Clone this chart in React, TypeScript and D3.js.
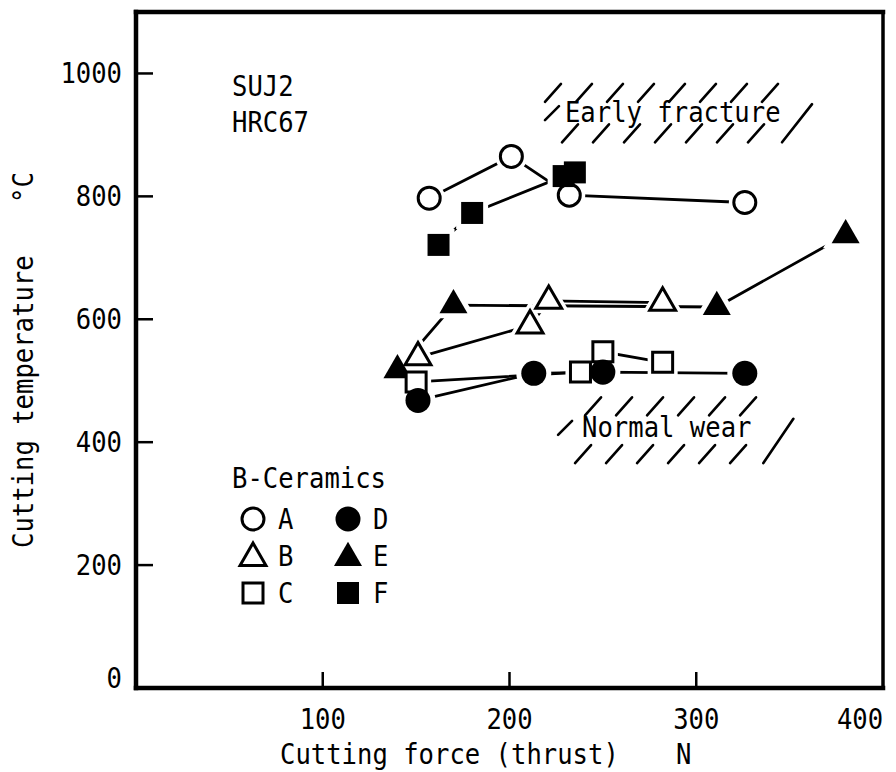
import * as d3 from "d3";

// B-Ceramics cutting data
const forceA = [157, 201, 232, 326];
const tempA = [797, 865, 802, 790];
const forceB = [151, 211, 221, 282];
const tempB = [538, 590, 630, 627];
const forceC = [150, 238, 250, 282];
const tempC = [498, 514, 547, 530];
const forceD = [151, 213, 250, 326];
const tempD = [468, 512, 514, 512];
const forceE = [140, 170, 311, 380];
const tempE = [517, 623, 620, 737];
const forceF = [162, 180, 229, 235];
const tempF = [721, 773, 833, 839];

const xTicks = [100, 200, 300, 400];
const yTicks = [0, 200, 400, 600, 800, 1000];

// hatched zones (data units)
const zoneLabels = ["Early fracture", "Normal wear"];
const zoneX0 = [219, 226];
const zoneX1 = [362, 352];
const zoneTop = [983, 473];
const zoneMid = [937, 425];
const zoneBottom = [888, 366];

const W = 896;
const H = 772;
const left = 136, right = 883, top = 12, bottom = 688;
const PITCH = 15.4;
const FONT = "'DejaVu Sans Mono', monospace";

const x = d3.scaleLinear().domain([0, 400]).range([left, right]);
const y = d3.scaleLinear().domain([0, 1100]).range([bottom, top]);

const series = [
  { name: "E", xs: forceE, ys: tempE, shape: "triangle", filled: true },
  { name: "B", xs: forceB, ys: tempB, shape: "triangle", filled: false },
  { name: "C", xs: forceC, ys: tempC, shape: "square", filled: false },
  { name: "D", xs: forceD, ys: tempD, shape: "circle", filled: true },
  { name: "A", xs: forceA, ys: tempA, shape: "circle", filled: false },
  { name: "F", xs: forceF, ys: tempF, shape: "square", filled: true },
];

const symbolPath = (shape: string, filled: boolean) => {
  let type = d3.symbolCircle;
  let size = filled ? 491 : 380;
  if (shape === "square") {
    type = d3.symbolSquare;
    size = filled ? 484 : 400;
  }
  if (shape === "triangle") {
    type = d3.symbolTriangle;
    size = filled ? 340 : 290;
  }
  return d3.symbol().type(type).size(size)() as string;
};

function Mono(props: any) {
  const { x, y, text, anchor = "start", rotate } = props;
  return (
    <text
      x={x}
      y={y}
      fontFamily={FONT}
      fontSize={29}
      textAnchor={anchor}
      textLength={text.length * PITCH}
      lengthAdjust="spacingAndGlyphs"
      transform={rotate ? `rotate(${rotate},${x},${y})` : undefined}
      fill="#000"
    >
      {text}
    </text>
  );
}

function Marker(props: any) {
  const { cx, cy, shape, filled, halo } = props;
  const d = symbolPath(shape, filled);
  return (
    <g transform={`translate(${cx},${cy})`}>
      {halo ? (
        <path d={d} fill="#fff" stroke="#fff" strokeWidth={10} />
      ) : (
        <path
          d={d}
          fill={filled ? "#000" : "#fff"}
          stroke="#000"
          strokeWidth={filled ? 0 : 3}
        />
      )}
    </g>
  );
}

function hatchSlashes(i: number) {
  const segs: number[][] = [];
  const x0 = x(zoneX0[i]);
  const x1 = x(zoneX1[i]);
  const yt = y(zoneTop[i]);
  const yb = y(zoneBottom[i]);
  const ym = y(zoneMid[i]);
  const h = 18, dx = 16, step = 31;
  for (let px = x0 + (i === 1 ? 27 : 0); px + dx <= x1 - 12; px += step) {
    segs.push([px, yt + h, px + dx, yt]);
  }
  for (let px = x0 + 17; px + dx <= x1 - 30; px += step) {
    segs.push([px, yb, px + dx, yb - h]);
  }
  segs.push([x0, ym + 8, x0 + 14, ym - 6]);
  segs.push([x1 - 30, yb, x1, ym - 8]);
  return segs;
}

export default function App() {
  return (
    <svg
      width={W}
      height={H}
      style={{ display: "block", background: "#fff", position: "absolute", left: 0, top: 0 }}
    >
      {/* frame */}
      <g stroke="#000" strokeLinecap="square">
        <line x1={x(0)} y1={top} x2={x(0)} y2={bottom} strokeWidth={4.5} />
        <line x1={x(0)} y1={bottom} x2={right} y2={bottom} strokeWidth={4.5} />
        <line x1={x(0)} y1={top} x2={right} y2={top} strokeWidth={4.5} />
        <line x1={right} y1={top} x2={right} y2={bottom} strokeWidth={3.5} />
      </g>

      {/* ticks */}
      <g stroke="#000" strokeWidth={2.5}>
        {yTicks.filter((t) => t > 0).map((t) => (
          <line key={t} x1={x(0)} x2={x(0) + 17} y1={y(t)} y2={y(t)} />
        ))}
        {xTicks.filter((t) => t < 400).map((t) => (
          <line key={t} x1={x(t)} x2={x(t)} y1={bottom} y2={bottom - 16} />
        ))}
      </g>
      {yTicks.map((t) => (
        <Mono key={t} x={122} y={y(t) + (t === 0 ? 0 : 10)} text={String(t)} anchor="end" />
      ))}
      {xTicks.map((t) => (
        <Mono key={t} x={Math.min(x(t), 860)} y={bottom + 41} text={String(t)} anchor="middle" />
      ))}

      {/* axis titles */}
      <Mono x={280} y={764} text="Cutting force (thrust)" />
      <Mono x={676} y={764} text="N" />
      <Mono x={33} y={548} text="Cutting temperature" rotate={-90} />
      <Mono x={33} y={203} text="°C" rotate={-90} />

      {/* material */}
      <Mono x={232} y={96} text="SUJ2" />
      <Mono x={232} y={132} text="HRC67" />

      {/* hatched zones */}
      {zoneLabels.map((lab, i) => (
        <g key={lab}>
          <g stroke="#000" strokeWidth={2.6} strokeLinecap="round">
            {hatchSlashes(i).map((s, j) => (
              <line key={j} x1={s[0]} y1={s[1]} x2={s[2]} y2={s[3]} />
            ))}
          </g>
          <Mono x={x(zoneX0[i]) + (i === 0 ? 20 : 24)} y={y(zoneMid[i]) + 10} text={lab} />
        </g>
      ))}

      {/* series lines */}
      <g fill="none" stroke="#000" strokeWidth={2.8}>
        {series.map((s) => {
          const pts = s.xs.map((v, k) => [x(v), y(s.ys[k])] as [number, number]);
          return <path key={s.name} d={d3.line()(pts) as string} />;
        })}
      </g>

      {/* white gaps round the markers, then the markers */}
      {series.map((s) =>
        s.xs.map((v, k) => (
          <Marker key={"h" + s.name + k} cx={x(v)} cy={y(s.ys[k])} shape={s.shape} filled={s.filled} halo />
        ))
      )}
      {series.map((s) =>
        s.xs.map((v, k) => (
          <Marker key={s.name + k} cx={x(v)} cy={y(s.ys[k])} shape={s.shape} filled={s.filled} />
        ))
      )}

      {/* legend */}
      <Mono x={232} y={488} text="B-Ceramics" />
      {["A", "B", "C", "D", "E", "F"].map((name, k) => {
        const s = series.find((q) => q.name === name)!;
        const col = k < 3 ? 0 : 1;
        const row = k % 3;
        const cy = 519 + row * 37;
        const mx = col === 0 ? 253 : 348;
        return (
          <g key={name}>
            <Marker cx={mx} cy={cy + (s.shape === "triangle" ? 2 : 0)} shape={s.shape} filled={s.filled} />
            <Mono x={mx + 25} y={cy + 10} text={name} />
          </g>
        );
      })}
    </svg>
  );
}
